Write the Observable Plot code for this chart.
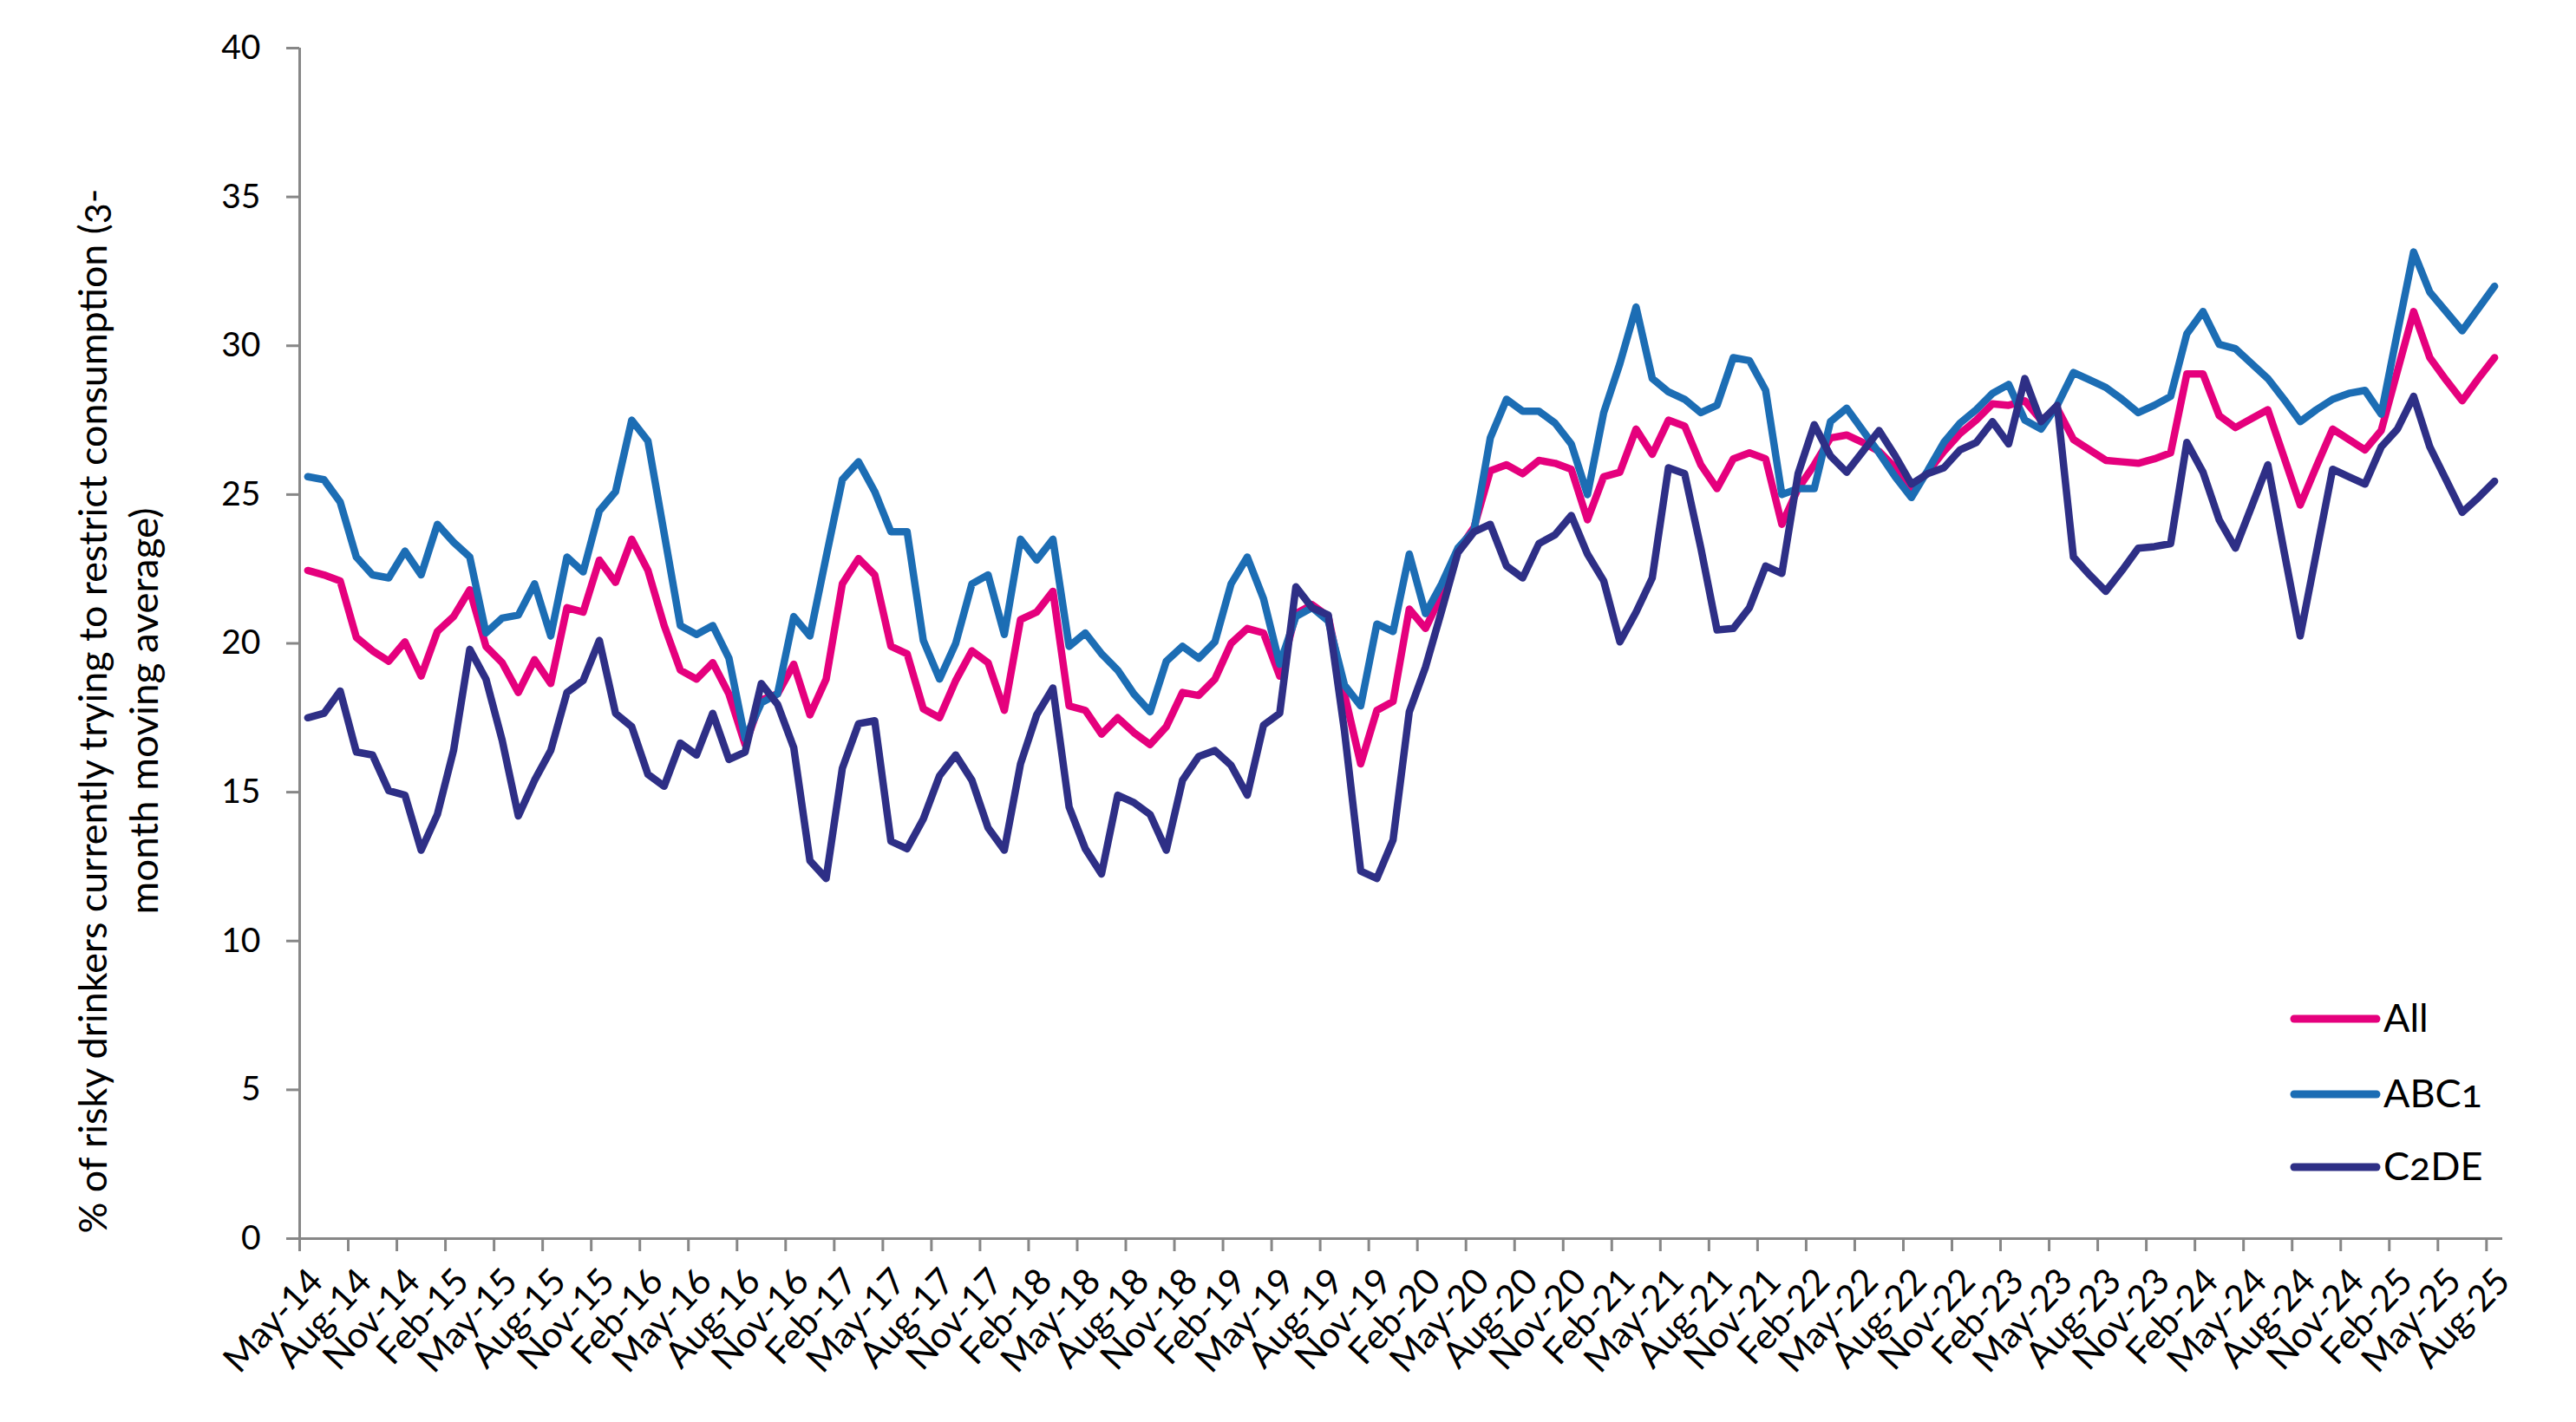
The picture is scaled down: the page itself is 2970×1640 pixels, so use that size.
<!DOCTYPE html>
<html><head><meta charset="utf-8">
<script src="https://cdn.jsdelivr.net/npm/d3@7"></script>
<script src="https://cdn.jsdelivr.net/npm/@observablehq/plot@0.6"></script>
<style>
html,body{margin:0;padding:0;background:#fff;}
#chart svg{display:block;font-family:Lato,"Open Sans",sans-serif;font-variant-numeric:oldstyle-nums;}
</style></head><body><div id="chart"></div>
<script>
const seriesNames = ["All", "ABC1", "C2DE"];
const seriesColors = ["#E5007D", "#1C6DB4", "#2E2F86"];

const xTickLabels = ["May-14","Aug-14","Nov-14",
 "Feb-15","May-15","Aug-15","Nov-15",
 "Feb-16","May-16","Aug-16","Nov-16",
 "Feb-17","May-17","Aug-17","Nov-17",
 "Feb-18","May-18","Aug-18","Nov-18",
 "Feb-19","May-19","Aug-19","Nov-19",
 "Feb-20","May-20","Aug-20","Nov-20",
 "Feb-21","May-21","Aug-21","Nov-21",
 "Feb-22","May-22","Aug-22","Nov-22",
 "Feb-23","May-23","Aug-23","Nov-23",
 "Feb-24","May-24","Aug-24","Nov-24",
 "Feb-25","May-25","Aug-25"];

const yTicks = [0, 5, 10, 15, 20, 25, 30, 35, 40];
const yTitleLines = ["% of risky drinkers currently trying to restrict consumption (3-", "month moving average)"];

const allValues = [22.45,22.3,22.1,20.2,19.75,19.4,20.05,18.9,20.4,20.9,
 21.8,19.9,19.35,18.35,19.45,18.65,21.2,21.05,22.8,22.05,
 23.5,22.45,20.6,19.1,18.8,19.35,18.3,16.6,18.1,18.3,
 19.3,17.6,18.8,22.0,22.85,22.3,19.9,19.65,17.8,17.5,
 18.75,19.75,19.35,17.75,20.8,21.05,21.75,17.9,17.75,16.95,
 17.5,17.0,16.6,17.2,18.35,18.25,18.8,20.0,20.5,20.35,
 18.9,21.0,21.3,20.9,18.3,15.95,17.75,18.05,21.15,20.5,
 21.65,23.1,23.9,25.8,26.0,25.7,26.15,26.05,25.85,24.15,
 25.6,25.75,27.2,26.35,27.5,27.3,26.0,25.2,26.2,26.4,
 26.2,24.0,25.2,26.0,26.9,27.0,26.75,26.45,25.9,25.2,
 25.75,26.45,27.05,27.5,28.05,28.0,28.15,27.5,27.9,26.85,
 26.5,26.15,26.1,26.05,26.2,26.4,29.05,29.05,27.65,27.25,
 27.55,27.85,26.25,24.65,25.95,27.2,26.85,26.5,27.15,29.15,
 31.15,29.6,28.85,28.15,28.9,29.6];

const abc1Values = [25.6,25.5,24.75,22.9,22.3,22.2,23.1,22.3,24.0,23.4,
 22.9,20.35,20.85,20.95,22.0,20.25,22.9,22.4,24.45,25.1,
 27.5,26.8,23.7,20.6,20.3,20.6,19.5,16.8,18.0,18.3,
 20.9,20.25,22.9,25.5,26.1,25.1,23.75,23.75,20.1,18.8,
 20.0,22.0,22.3,20.3,23.5,22.8,23.5,19.9,20.35,19.65,
 19.1,18.3,17.7,19.4,19.9,19.5,20.05,22.0,22.9,21.5,
 19.3,20.9,21.2,20.75,18.6,17.9,20.65,20.4,23.0,21.0,
 22.0,23.2,23.8,26.9,28.2,27.8,27.8,27.4,26.7,25.0,
 27.75,29.4,31.3,28.9,28.45,28.2,27.75,28.0,29.6,29.5,
 28.5,25.0,25.2,25.2,27.45,27.9,27.15,26.4,25.6,24.9,
 25.8,26.75,27.4,27.85,28.4,28.7,27.5,27.2,28.0,29.1,
 28.85,28.6,28.2,27.75,28.0,28.3,30.4,31.15,30.05,29.9,
 29.4,28.9,28.2,27.45,27.85,28.2,28.4,28.5,27.7,30.45,
 33.15,31.8,31.15,30.5,31.25,32.0];

const c2deValues = [17.5,17.65,18.4,16.35,16.25,15.05,14.9,13.05,14.25,16.4,
 19.8,18.8,16.75,14.2,15.4,16.4,18.35,18.75,20.1,17.65,
 17.2,15.6,15.2,16.65,16.25,17.65,16.1,16.35,18.65,17.95,
 16.5,12.7,12.1,15.8,17.3,17.4,13.35,13.1,14.1,15.55,
 16.25,15.4,13.8,13.05,15.95,17.6,18.5,14.5,13.1,12.25,
 14.9,14.65,14.25,13.05,15.4,16.2,16.4,15.9,14.9,17.25,
 17.65,21.9,21.2,20.95,17.05,12.35,12.1,13.4,17.7,19.2,
 21.1,23.05,23.75,24.0,22.6,22.2,23.35,23.65,24.3,23.0,
 22.1,20.05,21.05,22.2,25.9,25.7,23.2,20.45,20.5,21.2,
 22.6,22.35,25.7,27.35,26.3,25.75,26.45,27.15,26.3,25.35,
 25.7,25.9,26.5,26.75,27.45,26.7,28.9,27.45,28.0,22.9,
 22.3,21.75,22.45,23.2,23.25,23.35,26.75,25.75,24.15,23.2,
 24.6,26.0,23.1,20.25,23.05,25.85,25.6,25.35,26.6,27.2,
 28.3,26.6,25.5,24.4,24.9,25.45];

const rows = [];
[allValues, abc1Values, c2deValues].forEach((vals, s) =>
  vals.forEach((v, i) => rows.push({i, v, series: seriesNames[s]})));

const W = 2970, H = 1640;
const labelIdx = xTickLabels.map((d, k) => k * 3);
const boundaries = labelIdx.map(i => i - 0.5);
const axisGrey = "#878787";

const chart = Plot.plot({
  width: W, height: H,
  marginLeft: 345, marginRight: 85, marginTop: 55, marginBottom: 212,
  style: {background: "#fff", overflow: "visible"},
  x: {type: "linear", domain: [-0.5, allValues.length - 0.5]},
  y: {domain: [0, 40]},
  color: {domain: seriesNames, range: seriesColors},
  marks: [
    Plot.axisY({ticks: yTicks, tickSize: 15, tickPadding: 30, stroke: axisGrey, strokeWidth: 3,
                fill: "#000", fontSize: 39, label: null}),
    Plot.axisX({ticks: boundaries, tickSize: 15, tickFormat: () => "", stroke: axisGrey, strokeWidth: 3, label: null}),
    Plot.axisX({ticks: labelIdx, tickSize: 0, tickPadding: 42, tickRotate: -47, dx: 10,
                tickFormat: d => xTickLabels[Math.round(d / 3)], fontSize: 42, fill: "#000", label: null}),
    Plot.ruleY([0], {stroke: axisGrey, strokeWidth: 3}),
    Plot.ruleX([-0.5], {stroke: axisGrey, strokeWidth: 3}),
    Plot.line(rows, {x: "i", y: "v", z: "series", stroke: "series", strokeWidth: 8.5,
                     strokeLinecap: "round", strokeLinejoin: "round"})
  ]
});

const svg = d3.select(chart);
// y-axis title (two lines, rotated)
const titleX = [123, 182], titleLen = [1205, 469];
yTitleLines.forEach((t, k) => {
  svg.append("text")
    .attr("transform", `translate(${titleX[k]},820) rotate(-90)`)
    .attr("text-anchor", "middle")
    .attr("font-size", 44)
    .attr("textLength", titleLen[k])
    .attr("lengthAdjust", "spacingAndGlyphs")
    .attr("fill", "#000")
    .text(t);
});
// legend
const legY = [1175, 1262, 1346];
const leg = svg.append("g").attr("text-anchor", "start");
seriesNames.forEach((name, k) => {
  leg.append("line").attr("x1", 2645).attr("x2", 2740).attr("y1", legY[k]).attr("y2", legY[k])
    .attr("stroke", seriesColors[k]).attr("stroke-width", 9).attr("stroke-linecap", "round");
  leg.append("text").attr("x", 2748).attr("y", legY[k]).attr("dy", "0.33em")
    .attr("text-anchor", "start")
    .attr("font-size", 45).attr("fill", "#000").text(name);
});

document.getElementById("chart").appendChild(chart);
</script></body></html>
